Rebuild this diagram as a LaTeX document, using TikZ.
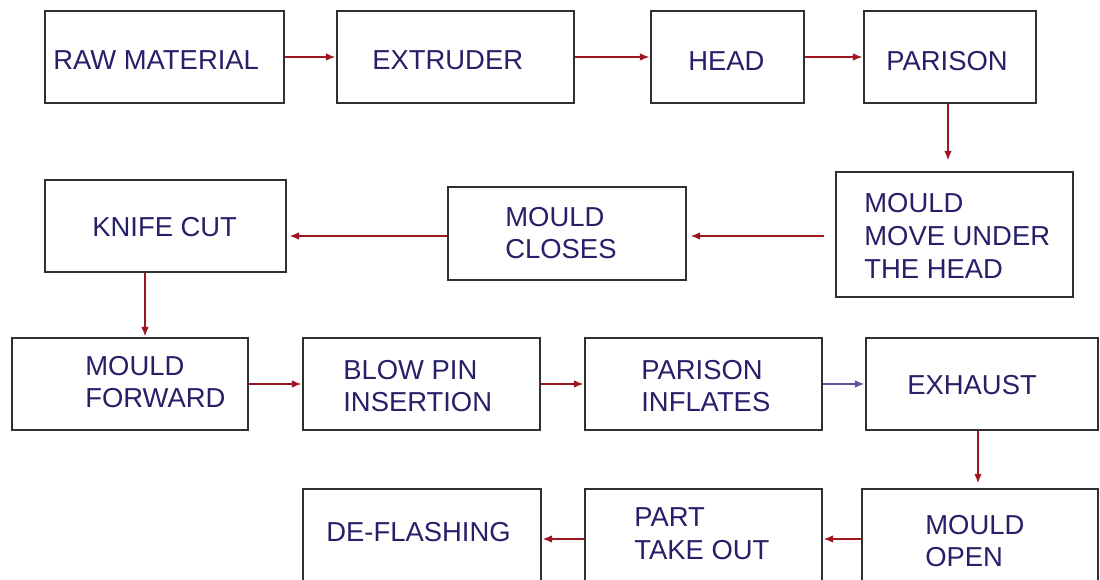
\documentclass[tikz,border=0pt]{standalone}
\usepackage{fontspec}
\setmainfont{Liberation Sans}
\usetikzlibrary{arrows.meta}
\newdimen\px \px=0.02cm
\definecolor{navy}{RGB}{38,32,104}
\definecolor{arrred}{RGB}{160,22,32}
\definecolor{arrblue}{RGB}{90,85,150}
\definecolor{boxgray}{RGB}{48,48,48}
\tikzset{
  box/.style={draw=boxgray, line width=1.5pt, rectangle, inner sep=0pt},
  txt/.style={text=navy, font=\fontsize{15.6}{18.7}\selectfont, align=left, inner sep=0pt, anchor=west},
  flow/.style={draw=arrred, line width=1.2pt, -{Latex[length=5.6pt,width=4.4pt]}},
}
\begin{document}
\begin{tikzpicture}[x=0.02cm,y=-0.02cm]
\clip (0,0) rectangle (1100,580);
\fill[white] (0,0) rectangle (1100,580);
% row 1
\node[box, minimum width=239\px, minimum height=92\px] (raw)  at (164.5,57) {};
\node[box, minimum width=237\px, minimum height=92\px] (extr) at (455.5,57) {};
\node[box, minimum width=153\px, minimum height=92\px] (head) at (727.5,57) {};
\node[box, minimum width=172\px, minimum height=92\px] (pari) at (950,57) {};
% row 2
\node[box, minimum width=241\px, minimum height=92\px]  (knife)  at (165.5,226) {};
\node[box, minimum width=238\px, minimum height=93\px]  (mclose) at (567,233.5) {};
\node[box, minimum width=237\px, minimum height=125\px] (mmove)  at (954.5,234.5) {};
% row 3
\node[box, minimum width=236\px, minimum height=92\px] (mfwd) at (130,384) {};
\node[box, minimum width=237\px, minimum height=92\px] (blow) at (421.5,384) {};
\node[box, minimum width=237\px, minimum height=92\px] (infl) at (703.5,384) {};
\node[box, minimum width=232\px, minimum height=92\px] (exh)  at (982,384) {};
% row 4
\node[box, minimum width=238\px, minimum height=96\px] (defl)  at (422,537) {};
\node[box, minimum width=237\px, minimum height=96\px] (part)  at (703.5,537) {};
\node[box, minimum width=236\px, minimum height=96\px] (mopen) at (980,537) {};
% texts
\node[txt] (traw)    at (53,60)   {RAW MATERIAL};
\node[txt] (textr)   at (372,60)  {EXTRUDER};
\node[txt] (thead)   at (688,61)  {HEAD};
\node[txt] (tpari)   at (886,61)  {PARISON};
\node[txt] (tknife)  at (92,227)  {KNIFE CUT};
\node[txt] (tmclose) at (505,233) {MOULD\\CLOSES};
\node[txt] (tmmove)  at (864,236) {MOULD\\MOVE UNDER\\THE HEAD};
\node[txt] (tmfwd)   at (85,382)  {MOULD\\FORWARD};
\node[txt] (tblow)   at (343,386) {BLOW PIN\\INSERTION};
\node[txt] (tinfl)   at (641,386) {PARISON\\INFLATES};
\node[txt] (texh)    at (907,385) {EXHAUST};
\node[txt] (tdefl)   at (326,532) {DE-FLASHING};
\node[txt] (tpart)   at (634,534) {PART\\TAKE OUT};
\node[txt] (tmopen)  at (925,541) {MOULD\\OPEN};
% connectors
\draw[flow] (raw) -- (extr);
\draw[flow] (extr) -- (head);
\draw[flow] (head) -- (pari);
\draw[flow, shorten >=5.7pt] ([xshift=-2\px]pari.south) -- ([xshift=-2\px]pari.south |- mmove.north);
\draw[flow, shorten <=6.2pt, shorten >=1.7pt] ([yshift=-1.5\px]mmove.west) -- ([yshift=-1.5\px]mmove.west -| mclose.east);
\draw[flow, shorten >=1.1pt] ([yshift=-2.5\px]mclose.west) -- ([yshift=-2.5\px]mclose.west -| knife.east);
\draw[flow] ([xshift=-20.5\px]knife.south) -- ([xshift=-20.5\px]knife.south |- mfwd.north);
\draw[flow] (mfwd) -- (blow);
\draw[flow] (blow) -- (infl);
\draw[flow, draw=arrblue] (infl) -- (exh);
\draw[flow, shorten >=2.3pt] ([xshift=-4\px]exh.south) -- ([xshift=-4\px]exh.south |- mopen.north);
\draw[flow] ([yshift=-2\px]mopen.west) -- ([yshift=-2\px]mopen.west -| part.east);
\draw[flow] ([yshift=-2\px]part.west) -- ([yshift=-2\px]part.west -| defl.east);
\end{tikzpicture}
\end{document}
